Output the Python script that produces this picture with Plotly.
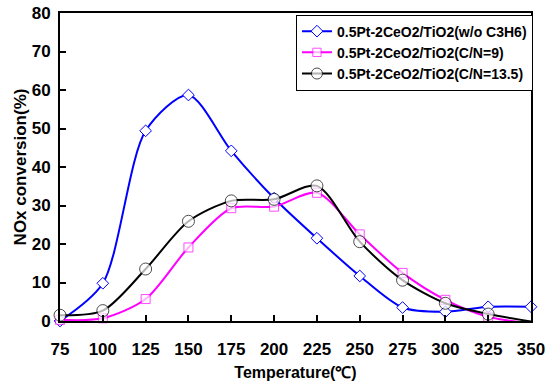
import plotly.graph_objects as go

temps = [75, 100, 125, 150, 175, 200, 225, 250, 275, 300, 325, 350]
wo_c3h6 = [0.0, 9.8, 49.4, 58.7, 44.2, 31.9, 21.5, 11.7, 3.5, 2.4, 3.7, 3.7]
cn9 = [0.3, 0.7, 5.7, 19.1, 29.3, 29.7, 33.3, 22.5, 12.5, 5.5, 1.1, -0.6]
cn135 = [1.5, 2.7, 13.5, 25.9, 31.2, 31.6, 35.1, 20.6, 10.6, 4.6, 1.8, -0.1]
names = ["0.5Pt-2CeO2/TiO2(w/o C3H6)", "0.5Pt-2CeO2/TiO2(C/N=9)", "0.5Pt-2CeO2/TiO2(C/N=13.5)"]
xticks = [75, 100, 125, 150, 175, 200, 225, 250, 275, 300, 325, 350]
yticks = [0, 10, 20, 30, 40, 50, 60, 70, 80]

FONT = "Liberation Sans, Arial, sans-serif"

fig = go.Figure()
fig.add_trace(go.Scatter(
    x=temps, y=wo_c3h6, name=names[0], mode="lines+markers",
    line=dict(color="#0000FF", width=2, shape="spline", smoothing=0.8),
    marker=dict(symbol="diamond", size=9, color="white", line=dict(color="#0000FF", width=1)),
    cliponaxis=False))
fig.add_trace(go.Scatter(
    x=temps, y=cn9, name=names[1], mode="lines+markers",
    line=dict(color="#FF00FF", width=2, shape="spline", smoothing=0.8),
    marker=dict(symbol="square", size=[9]*11 + [0], color="white", line=dict(color="#FF00FF", width=1)),
    cliponaxis=False))
fig.add_trace(go.Scatter(
    x=temps, y=cn135, name=names[2], mode="lines+markers",
    line=dict(color="black", width=2, shape="spline", smoothing=0.8),
    marker=dict(symbol="circle", size=[12]*11 + [0], color="white", line=dict(color="black", width=1)),
    cliponaxis=False))

fig.update_layout(
    width=545, height=388,
    margin=dict(l=60, r=14, t=13, b=67),
    paper_bgcolor="white", plot_bgcolor="white",
    font=dict(family=FONT, color="black"),
    showlegend=True,
    legend=dict(
        x=0.501, y=0.995, xanchor="left", yanchor="top",
        bordercolor="black", borderwidth=1, bgcolor="white",
        font=dict(family=FONT, size=14, color="black", weight="bold"),
        tracegroupgap=0, itemwidth=30,
    ),
    xaxis=dict(
        range=[75, 350], tickvals=xticks, ticktext=[str(v) for v in xticks],
        ticks="inside", ticklen=6, tickwidth=1.5, tickcolor="black",
        showline=True, linecolor="black", linewidth=2, mirror=True,
        showgrid=False, zeroline=False, automargin=False,
        ticklabeloverflow="allow",
        tickfont=dict(family=FONT, size=17, color="black", weight="bold"),
        ticklabelstandoff=12,
        title=dict(text="Temperature(℃)", font=dict(family=FONT, size=16, color="black", weight="bold"), standoff=8),
    ),
    yaxis=dict(
        range=[0, 80], tickvals=yticks,
        ticks="inside", ticklen=6, tickwidth=1.5, tickcolor="black",
        showline=True, linecolor="black", linewidth=2, mirror=True,
        showgrid=False, zeroline=False, automargin=False,
        ticklabeloverflow="allow",
        tickfont=dict(family=FONT, size=17, color="black", weight="bold"),
        ticklabelstandoff=4,
        title=dict(text="NOx conversion(%)", font=dict(family=FONT, size=17, color="black", weight="bold"), standoff=1),
    ),
)

fig.write_html("out.html", config={"displayModeBar": False},
               post_script="document.body.style.margin='0';")
